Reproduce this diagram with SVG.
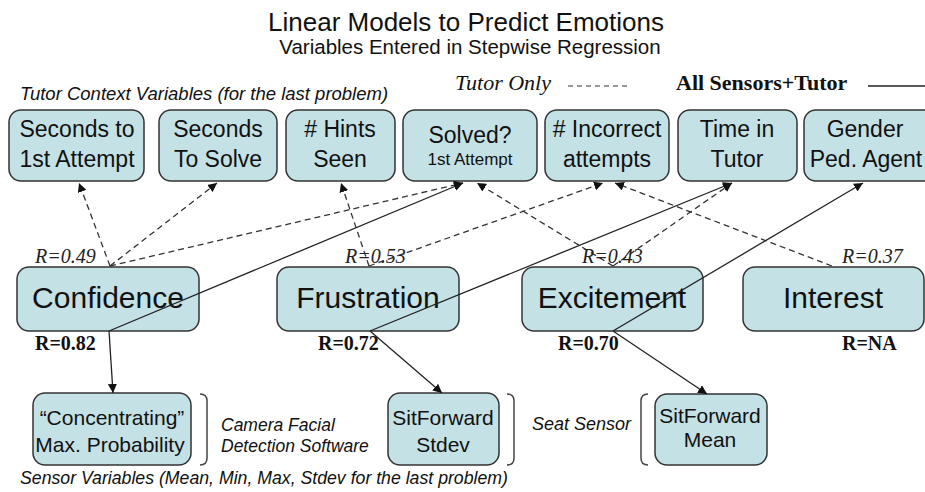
<svg xmlns="http://www.w3.org/2000/svg" width="925" height="492" viewBox="0 0 925 492">
<defs>
<marker id="ah" viewBox="0 0 10 10" refX="10" refY="5" markerWidth="9" markerHeight="9" markerUnits="userSpaceOnUse" orient="auto">
<path d="M0,0 L10,5 L0,10 Z" fill="#111"/>
</marker>
</defs>
<style>
.box{fill:#c4e1e5;stroke:#333;stroke-width:1.5}
.t{font-family:"Liberation Sans",Arial,sans-serif;fill:#111;text-anchor:middle}
.n23{font-size:23px}
.n30{font-size:30px}
.n21{font-size:21px}
.it{font-family:"Liberation Sans",Arial,sans-serif;font-style:italic;fill:#111}
.ri{font-family:"Liberation Serif","Times New Roman",serif;font-style:italic;font-size:20px;fill:#222}
.rb{font-family:"Liberation Serif","Times New Roman",serif;font-weight:bold;font-size:20px;fill:#111}
.dash{stroke:#333;stroke-width:1.3;fill:none;stroke-dasharray:6 4;marker-end:url(#ah)}
.solid{stroke:#222;stroke-width:1.3;fill:none;marker-end:url(#ah)}
.br{stroke:#444;stroke-width:1.5;fill:none}
</style>
<rect width="925" height="492" fill="#fff"/>

<text x="466" y="31" class="t" font-size="26">Linear Models to Predict Emotions</text>
<text x="470" y="54" class="t" font-size="20.5">Variables Entered in Stepwise Regression</text>
<text x="20" y="100" class="it" font-size="18.5">Tutor Context Variables (for the last problem)</text>
<text x="455" y="90" font-family="'Liberation Serif','Times New Roman',serif" font-style="italic" font-size="22" fill="#111">Tutor Only</text>
<line x1="568" y1="86" x2="630" y2="86" stroke="#333" stroke-width="1.2" stroke-dasharray="5 4"/>
<text x="676" y="90" font-family="'Liberation Serif','Times New Roman',serif" font-weight="bold" font-size="22" fill="#111">All Sensors+Tutor</text>
<line x1="868" y1="86" x2="925" y2="86" stroke="#222" stroke-width="1.3"/>

<g id="secondsTo1st"><rect class="box" x="9" y="110" width="135" height="71" rx="12"/><text class="t n23" x="77" y="137">Seconds to</text><text class="t n23" x="77" y="167">1st Attempt</text></g>
<g id="secondsToSolve"><rect class="box" x="159" y="110" width="118" height="71" rx="12"/><text class="t n23" x="218" y="137">Seconds</text><text class="t n23" x="218" y="167">To Solve</text></g>
<g id="hintsSeen"><rect class="box" x="286" y="110" width="109" height="71" rx="12"/><text class="t n23" x="340" y="137"># Hints</text><text class="t n23" x="340" y="167">Seen</text></g>
<g id="solved"><rect class="box" x="403" y="110" width="134" height="71" rx="12"/><text class="t n23" x="470" y="143">Solved?</text><text class="t" font-size="17" x="470" y="165">1st Attempt</text></g>
<g id="incorrect"><rect class="box" x="545" y="110" width="124" height="71" rx="12"/><text class="t n23" x="607" y="137"># Incorrect</text><text class="t n23" x="607" y="167">attempts</text></g>
<g id="timeInTutor"><rect class="box" x="678" y="110" width="119" height="71" rx="12"/><text class="t n23" x="737" y="137">Time in</text><text class="t n23" x="737" y="167">Tutor</text></g>
<g id="gender"><rect class="box" x="804" y="110" width="135" height="71" rx="12"/><text class="t n23" x="865" y="137">Gender</text><text class="t n23" x="866" y="167">Ped. Agent</text></g>

<g id="confidence"><rect class="box" x="17" y="267" width="182" height="64" rx="12"/><text class="t n30" x="108" y="308">Confidence</text></g>
<g id="frustration"><rect class="box" x="277" y="267" width="182" height="64" rx="12"/><text class="t n30" x="368" y="308">Frustration</text></g>
<g id="excitement"><rect class="box" x="522" y="267" width="181" height="64" rx="12"/><text class="t n30" x="612" y="308">Excitement</text></g>
<g id="interest"><rect class="box" x="743" y="267" width="181" height="64" rx="12"/><text class="t n30" x="833" y="308">Interest</text></g>

<g id="concentrating"><rect class="box" x="33" y="393" width="158" height="72" rx="12"/><text class="t n21" x="112" y="425">“Concentrating”</text><text class="t n21" x="110" y="452">Max. Probability</text></g>
<g id="sitForwardStdev"><rect class="box" x="388" y="393" width="111" height="72" rx="12"/><text class="t n21" x="443" y="425">SitForward</text><text class="t n21" x="443" y="452">Stdev</text></g>
<g id="sitForwardMean"><rect class="box" x="655" y="394" width="112" height="71" rx="12"/><text class="t n21" x="710" y="423">SitForward</text><text class="t n21" x="710" y="447">Mean</text></g>

<g id="connectors">
<line class="dash" x1="110" y1="266" x2="79" y2="183"/>
<line class="dash" x1="110" y1="266" x2="217" y2="183"/>
<line class="dash" x1="110" y1="266" x2="463" y2="183"/>
<line class="dash" x1="369" y1="266" x2="341" y2="183"/>
<line class="dash" x1="369" y1="266" x2="603" y2="183"/>
<line class="dash" x1="613" y1="266" x2="477" y2="183"/>
<line class="dash" x1="613" y1="266" x2="732" y2="183"/>
<line class="dash" x1="832" y1="266" x2="615" y2="183"/>
<line class="solid" x1="109" y1="331" x2="463" y2="183"/>
<line class="solid" x1="109" y1="331" x2="113" y2="393"/>
<line class="solid" x1="370" y1="331" x2="732" y2="183"/>
<line class="solid" x1="370" y1="331" x2="442" y2="393"/>
<line class="solid" x1="613" y1="331" x2="863" y2="183"/>
<line class="solid" x1="613" y1="331" x2="707" y2="394"/>
</g>

<text class="ri" x="35" y="263">R=0.49</text>
<text class="ri" x="345" y="263">R=0.53</text>
<text class="ri" x="582" y="263">R=0.43</text>
<text class="ri" x="842" y="263">R=0.37</text>
<text class="rb" x="35" y="350">R=0.82</text>
<text class="rb" x="318" y="350">R=0.72</text>
<text class="rb" x="558" y="350">R=0.70</text>
<text class="rb" x="842" y="350">R=NA</text>

<path class="br" d="M200,394 Q207,394 207,401 L207,458 Q207,465 200,465"/>
<path class="br" d="M507,394 Q514,394 514,401 L514,458 Q514,465 507,465"/>
<path class="br" d="M648,394 Q641,394 641,401 L641,458 Q641,465 648,465"/>
<text class="it" font-size="17.5" x="221" y="431">Camera Facial</text>
<text class="it" font-size="17.5" x="221" y="452">Detection Software</text>
<text class="it" font-size="18" x="532" y="430">Seat Sensor</text>
<text class="it" font-size="17.7" x="20" y="484">Sensor Variables (Mean, Min, Max, Stdev for the last problem)</text>
</svg>
